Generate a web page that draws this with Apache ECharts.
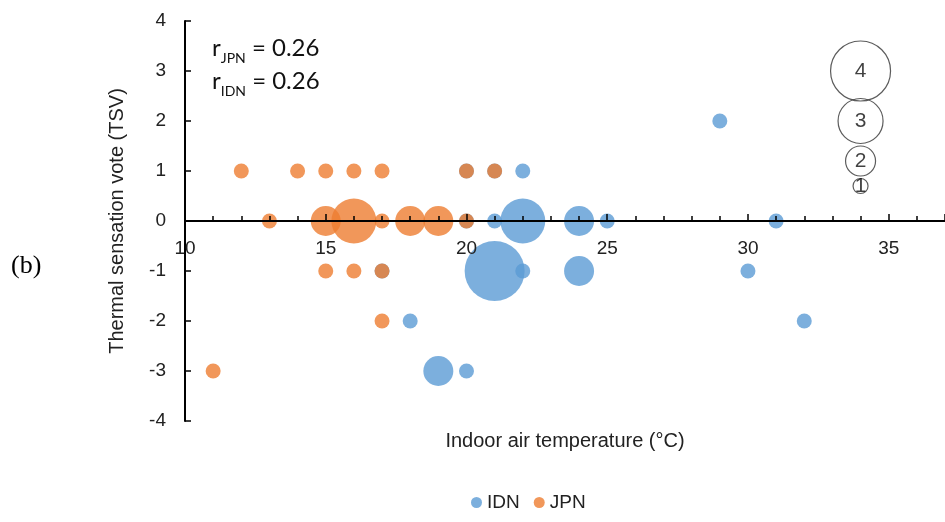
<!DOCTYPE html>
<html>
<head>
<meta charset="utf-8">
<script src="https://cdn.jsdelivr.net/npm/echarts@6/dist/echarts.min.js"></script>
<style>
  html, body { margin: 0; padding: 0; background: #fff; }
  #chart { width: 945px; height: 522px; }
</style>
</head>
<body>
<div id="chart"></div>
<script>
// IDN votes: temperature, TSV, number of votes (bubble size)
const idnTemp = [20, 21, 22, 29, 20, 21, 22, 24, 25, 31, 17, 21, 22, 24, 30, 18, 32, 19, 20]
const idnTsv  = [1, 1, 1, 2, 0, 0, 0, 0, 0, 0, -1, -1, -1, -1, -1, -2, -2, -3, -3]
const idnN    = [1, 1, 1, 1, 1, 1, 3, 2, 1, 1, 1, 4, 1, 2, 1, 1, 1, 2, 1]

// JPN votes
const jpnTemp = [12, 14, 15, 16, 17, 20, 21, 13, 15, 16, 17, 18, 19, 20, 15, 16, 17, 17, 11]
const jpnTsv  = [1, 1, 1, 1, 1, 1, 1, 0, 0, 0, 0, 0, 0, 0, -1, -1, -1, -2, -3]
const jpnN    = [1, 1, 1, 1, 1, 1, 1, 1, 2, 3, 1, 2, 2, 1, 1, 1, 1, 1, 1]

// bubble size key
const keyTemp = [34, 34, 34, 34]
const keyTsv  = [3, 2, 1.2, 0.7]
const keyN    = [4, 3, 2, 1]

const toPoints = (xs, ys, ns) => xs.map((x, i) => [x, ys[i], ns[i]])
const bubbleSize = (v) => 15 * v[2]

const chart = echarts.init(document.getElementById('chart'))

const option = {
  animation: false,
  grid: {
    left: 185,
    right: 0,
    top: 21,
    bottom: 101,
    outerBoundsMode: 'none',
  },
  legend: {
    data: ['IDN', 'JPN'],
    left: 466,
    top: 488,
    icon: 'circle',
    itemWidth: 11,
    itemHeight: 11,
    itemGap: 14,
    textStyle: { fontFamily: 'Liberation Sans', fontSize: 19, color: '#222' },
  },
  graphic: [
    {
      type: 'text',
      left: 11,
      top: 253,
      style: { text: '(b)', font: '26px "Liberation Serif"', fill: '#000' },
    },
    {
      type: 'text',
      left: 212,
      top: 36,
      style: {
        text: '{r|r}{s|JPN}{r| = 0.26}\n{r|r}{s|IDN}{r| = 0.26}',
        rich: {
          r: { fontFamily: 'Lato', fontSize: 24, lineHeight: 33, fill: '#111' },
          s: { fontFamily: 'Lato', fontSize: 14, lineHeight: 33, verticalAlign: 'bottom', padding: [15, 0, 0, 0], fill: '#111' },
        },
      },
    },
  ],
  xAxis: {
    type: 'value',
    min: 10,
    max: 37,
    interval: 5,
    z: 10,
    name: 'Indoor air temperature (°C)',
    nameLocation: 'middle',
    nameGap: 10,
    nameTextStyle: { fontFamily: 'Liberation Sans', fontSize: 20, color: '#222' },
    splitLine: { show: false },
    axisLine: { onZero: true, lineStyle: { color: '#000', width: 2 } },
    axisTick: { inside: true, length: 7, lineStyle: { color: '#000', width: 1.5 } },
    minorTick: { show: true, splitNumber: 5, length: 5, lineStyle: { color: '#000', width: 1.5 } },
    axisLabel: {
      showMaxLabel: false,
      margin: -182,
      fontFamily: 'Liberation Sans',
      fontSize: 19,
      color: '#222',
    },
  },
  yAxis: {
    type: 'value',
    min: -4,
    max: 4,
    interval: 1,
    z: 10,
    name: 'Thermal sensation vote (TSV)',
    nameLocation: 'middle',
    nameGap: 58,
    nameTextStyle: { fontFamily: 'Liberation Sans', fontSize: 20, color: '#222' },
    splitLine: { show: false },
    axisLine: { show: true, onZero: false, lineStyle: { color: '#000', width: 2 } },
    axisTick: { show: true, inside: true, length: 6, lineStyle: { color: '#000', width: 1.5 } },
    axisLabel: {
      margin: 19,
      fontFamily: 'Liberation Sans',
      fontSize: 19,
      color: '#222',
    },
  },
  series: [
    {
      name: 'IDN',
      type: 'scatter',
      data: toPoints(idnTemp, idnTsv, idnN),
      symbolSize: bubbleSize,
      itemStyle: { color: '#5B9BD5', opacity: 0.8 },
    },
    {
      name: 'JPN',
      type: 'scatter',
      data: toPoints(jpnTemp, jpnTsv, jpnN),
      symbolSize: bubbleSize,
      itemStyle: { color: '#ED7D31', opacity: 0.8 },
    },
    {
      name: 'key',
      type: 'scatter',
      data: toPoints(keyTemp, keyTsv, keyN),
      symbolSize: bubbleSize,
      itemStyle: { color: 'rgba(255,255,255,0)', borderColor: '#333', borderWidth: 1.2 },
      label: {
        show: true,
        position: 'inside',
        formatter: (p) => p.value[2],
        fontFamily: 'Liberation Sans',
        fontSize: 21,
        color: '#111',
      },
    },
  ],
}

chart.setOption(option)
</script>
</body>
</html>
